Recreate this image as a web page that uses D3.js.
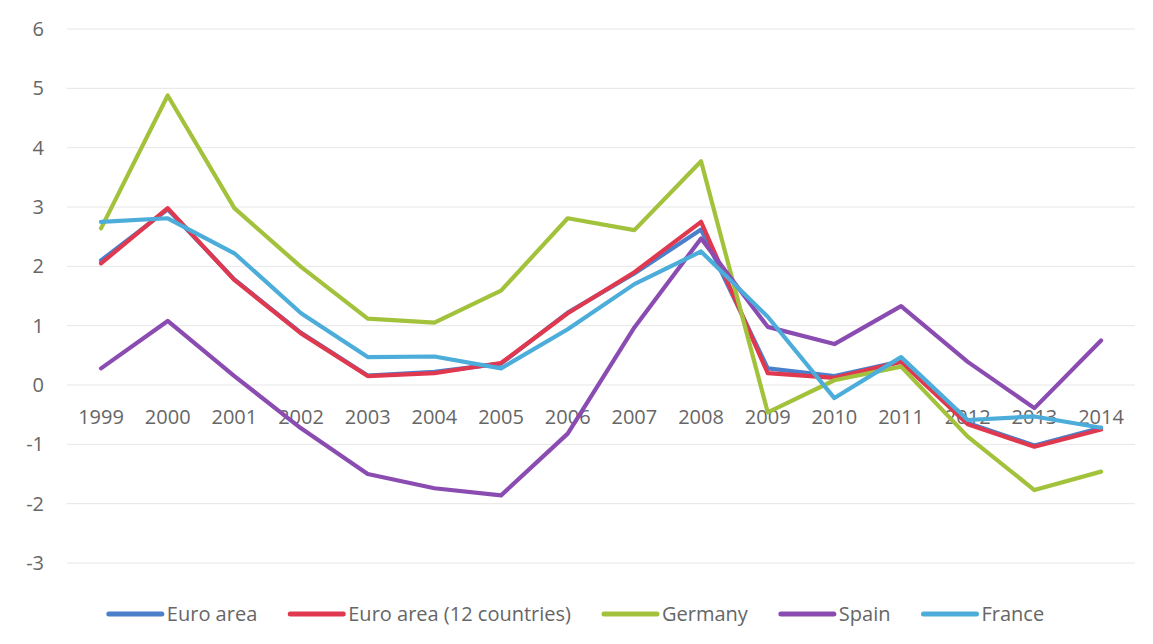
<!DOCTYPE html>
<html>
<head>
<meta charset="utf-8">
<script src="https://cdn.jsdelivr.net/npm/d3@7/dist/d3.min.js"></script>
<style>
  html, body { margin: 0; padding: 0; background: #ffffff; }
  svg { display: block; }
  text { font-family: "Open Sans", "Noto Sans", sans-serif; fill: #666666; }
</style>
</head>
<body>
<svg id="chart" width="1153" height="644"></svg>
<script>
const years = ["1999","2000","2001","2002","2003","2004","2005","2006","2007","2008","2009","2010","2011","2012","2013","2014"];
const yTicks = [-3,-2,-1,0,1,2,3,4,5,6];
const seriesNames = ["Euro area","Euro area (12 countries)","Germany","Spain","France"];
const euroArea   = [2.10, 2.96, 1.78, 0.88, 0.16, 0.22, 0.36, 1.22, 1.88, 2.62, 0.28, 0.15, 0.40, -0.64, -1.02, -0.72];
const euroArea12 = [2.05, 2.98, 1.77, 0.87, 0.15, 0.20, 0.37, 1.21, 1.90, 2.75, 0.20, 0.12, 0.39, -0.66, -1.04, -0.75];
const germany    = [2.64, 4.88, 2.98, 1.99, 1.12, 1.05, 1.59, 2.81, 2.61, 3.77, -0.46, 0.08, 0.31, -0.87, -1.77, -1.46];
const spain      = [0.28, 1.08, 0.15, -0.73, -1.50, -1.74, -1.86, -0.82, 0.97, 2.47, 0.98, 0.69, 1.33, 0.39, -0.39, 0.75];
const france     = [2.75, 2.81, 2.22, 1.21, 0.47, 0.48, 0.28, 0.94, 1.70, 2.25, 1.15, -0.22, 0.47, -0.59, -0.53, -0.72];
const colors = ["#4a7fcb", "#e0394f", "#a3c23c", "#8b4cb2", "#4cadda"];

const seriesValues = [euroArea, euroArea12, germany, spain, france];

const svg = d3.select("#chart");
const x = d3.scaleBand().domain(years).range([67.7, 1134.4]);
const y = d3.scaleLinear().domain([-3, 6]).range([563, 29]);

// gridlines
svg.append("g").selectAll("line").data(yTicks).join("line")
  .attr("x1", 67).attr("x2", 1135)
  .attr("y1", d => y(d)).attr("y2", d => y(d))
  .attr("stroke", "#e6e6e6").attr("stroke-width", 1);

// y labels
svg.append("g").selectAll("text").data(yTicks).join("text")
  .attr("x", 44).attr("y", d => y(d)).attr("dy", "0.35em")
  .attr("text-anchor", "end").attr("font-size", 20)
  .text(d => d);

// x labels
svg.append("g").selectAll("text").data(years).join("text")
  .attr("x", d => x(d) + x.bandwidth() / 2).attr("y", y(0) + 39)
  .attr("text-anchor", "middle").attr("font-size", 20)
  .text(d => d);

// lines
const line = d3.line().x((d, i) => x(years[i]) + x.bandwidth() / 2).y(d => y(d));
svg.append("g").selectAll("path").data(seriesValues).join("path")
  .attr("d", d => line(d))
  .attr("fill", "none")
  .attr("stroke", (d, i) => colors[i])
  .attr("stroke-width", 4.2)
  .attr("stroke-linejoin", "round")
  .attr("stroke-linecap", "round");

// legend
const leg = svg.append("g");
const items = [];
let cx = 0;
seriesNames.forEach((name, i) => {
  const g = leg.append("g");
  g.append("line").attr("x1", 0).attr("x2", 53).attr("y1", 0).attr("y2", 0)
    .attr("stroke", colors[i]).attr("stroke-width", 5).attr("stroke-linecap", "round");
  const t = g.append("text").attr("x", 58).attr("y", 0).attr("dy", "0.35em")
    .attr("font-size", 20).text(name);
  const w = 58 + t.node().getComputedTextLength();
  g.attr("transform", `translate(${cx},0)`);
  cx += w + 33;
});
const total = cx - 33;
leg.attr("transform", `translate(${(1153 - total) / 2},614)`);
</script>
</body>
</html>
